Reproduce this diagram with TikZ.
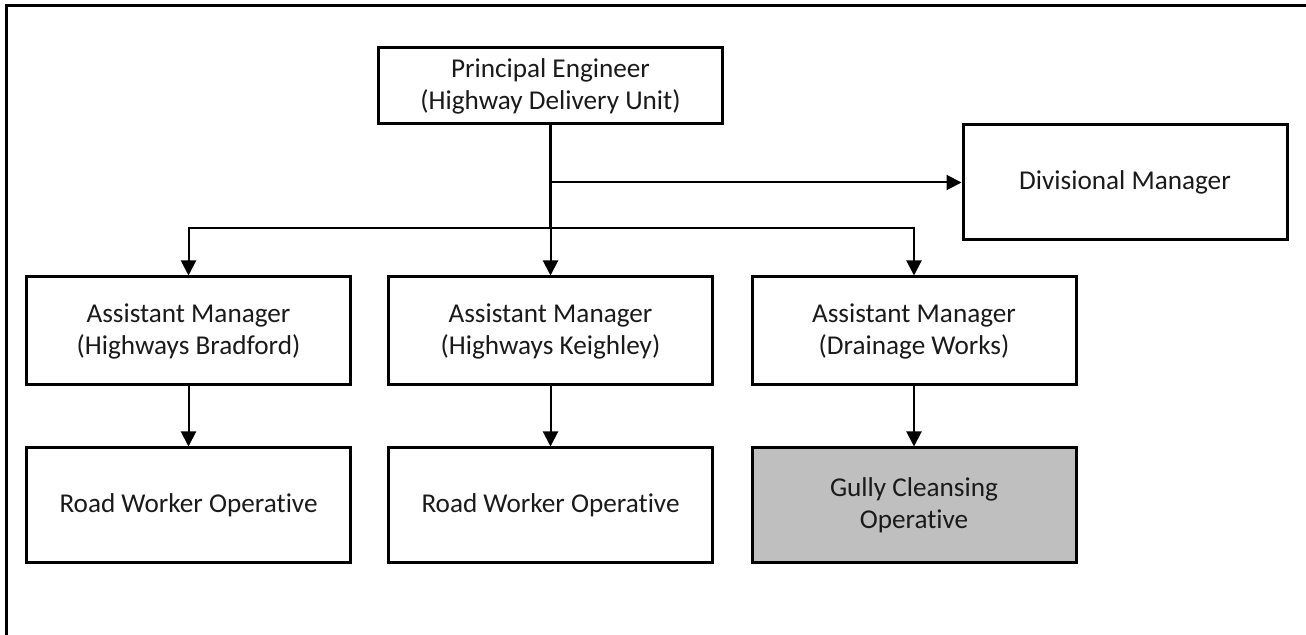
\documentclass[tikz,border=0pt]{standalone}
\usepackage{fontspec}
\setmainfont{Carlito}[Ligatures={NoCommon}]
\usetikzlibrary{arrows.meta}
\definecolor{boxgrey}{HTML}{BFBFBF}
\definecolor{txt}{HTML}{1A1A1A}

\begin{document}
\begin{tikzpicture}[x=0.5pt, y=-0.5pt,
    box/.style = {draw, line width=1.5pt, align=center, text=txt, inner sep=0pt,
                  font=\fontsize{13.6}{16}\selectfont},
    wide/.style = {box, minimum width=162pt, minimum height=57pt},
    arr/.style = {-{Triangle[length=7.5pt,width=7.5pt]}, line width=1pt}]
    \useasboundingbox (0,0) rectangle (1306,635);

    %frame
    \draw[line width=1.5pt] (6,640) -- (6,6) -- (1310,6);

    \node at (550.5,86) [box, minimum width=172pt, minimum height=38pt] (pe) {Principal Engineer\\(Highway Delivery Unit)};
    \node at (1125,182.5) [wide, minimum height=57.5pt] (dm) {Divisional Manager};

    \node at (188.5,331) [wide, minimum height=54pt] (am1) {Assistant Manager\\(Highways Bradford)};
    \node at (550.5,331) [wide, minimum height=54pt] (am2) {Assistant Manager\\(Highways Keighley)};
    \node at (914,331) [wide, minimum height=54pt] (am3) {Assistant Manager\\(Drainage Works)};

    \node at (188.5,505.5) [wide, minimum height=57.5pt] (rw1) {Road Worker Operative};
    \node at (550.5,505.5) [wide, minimum height=57.5pt] (rw2) {Road Worker Operative};
    \node at (914,505.5) [wide, minimum height=57.5pt, fill=boxgrey] (gc) {Gully Cleansing\\Operative};

    \coordinate (bus) at (550.5,228);
    \coordinate (dmj) at (pe.south |- dm.west);

    \draw[line width=1.5pt] (pe.south) -- (bus);
    \draw[arr] (pe.south) -- (am2.north);
    \draw[arr] (dmj) -- (dm.west);
    \draw[arr] (bus) -| (am1.north);
    \draw[arr] (bus) -| (am3.north);

    \draw[arr] (am1.south) -- (rw1.north);
    \draw[arr] (am2.south) -- (rw2.north);
    \draw[arr] (am3.south) -- (gc.north);

\end{tikzpicture}
\end{document}
